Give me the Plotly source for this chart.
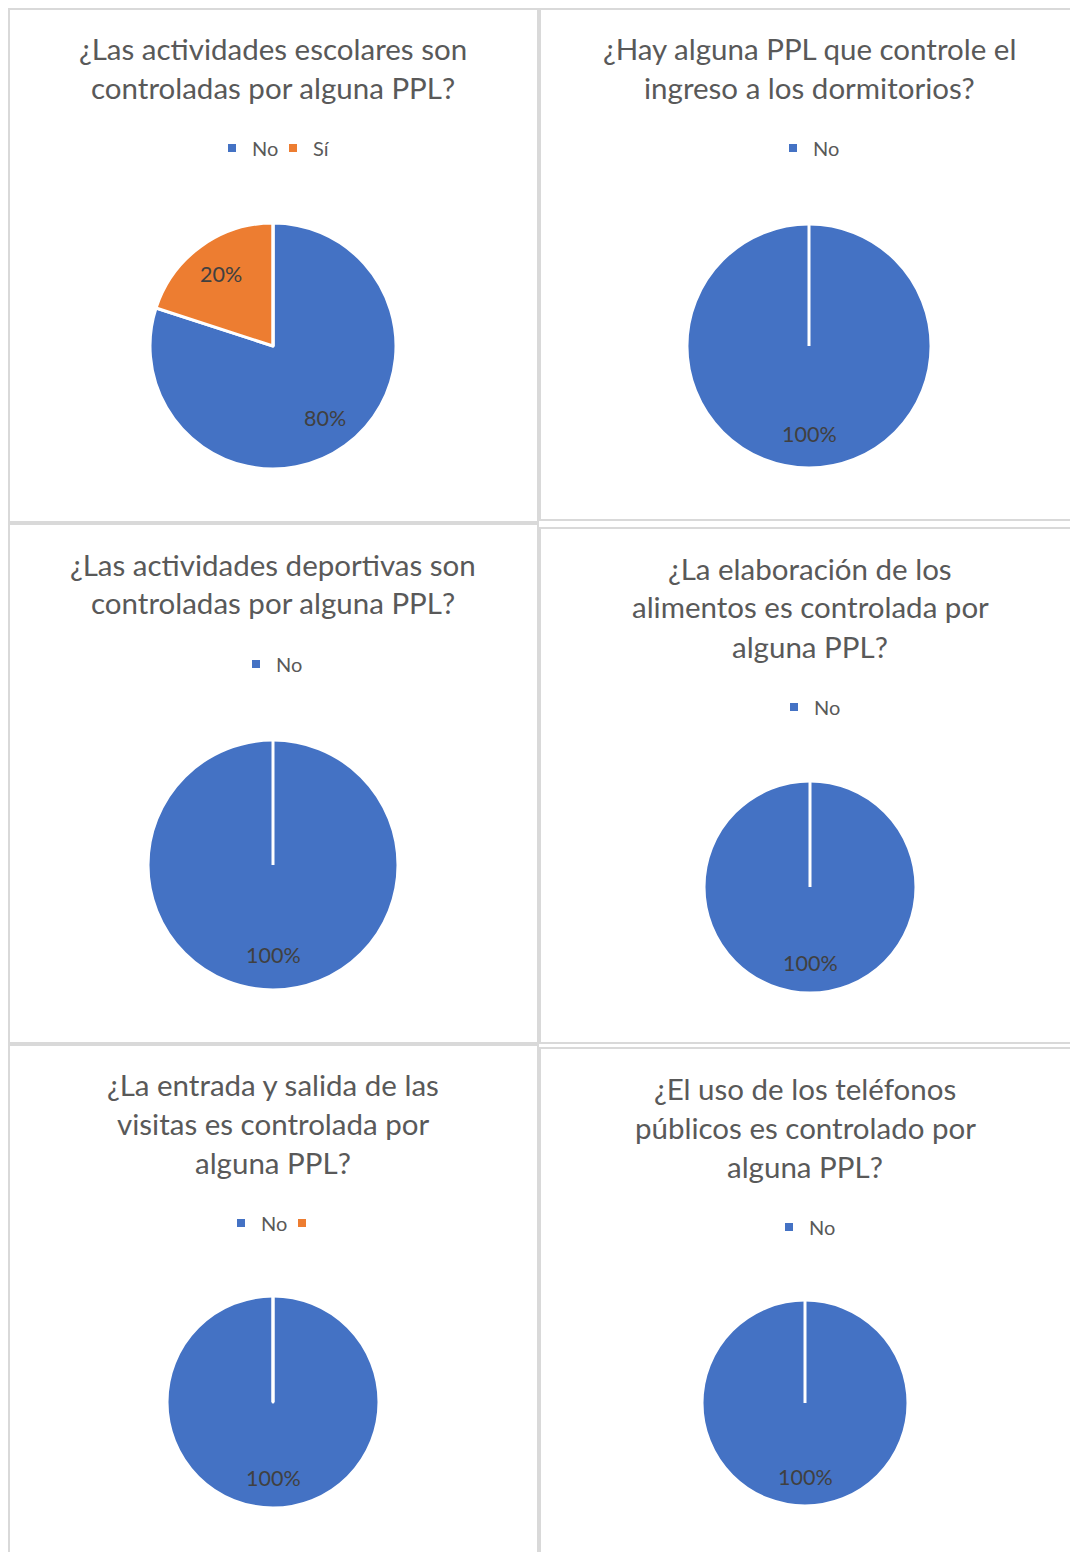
import math
import plotly.graph_objects as go

W, H = 1070, 1552

# ---------------- data ----------------
chart1_title = ["¿Las actividades escolares son", "controladas por alguna PPL?"]
chart1_labels = ["No", "Sí"]
chart1_values = [80, 20]

chart2_title = ["¿Hay alguna PPL que controle el", "ingreso a los dormitorios?"]
chart2_labels = ["No"]
chart2_values = [100]

chart3_title = ["¿Las actividades deportivas son", "controladas por alguna PPL?"]
chart3_labels = ["No"]
chart3_values = [100]

chart4_title = ["¿La elaboración de los", "alimentos es controlada por", "alguna PPL?"]
chart4_labels = ["No"]
chart4_values = [100]

chart5_title = ["¿La entrada y salida de las", "visitas es controlada por", "alguna PPL?"]
chart5_labels = ["No", " "]
chart5_values = [100, 0]

chart6_title = ["¿El uso de los teléfonos", "públicos es controlado por", "alguna PPL?"]
chart6_labels = ["No"]
chart6_values = [100]

slice_colors = ["#4472C4", "#ED7D31"]

charts = [
    (chart1_title, chart1_labels, chart1_values),
    (chart2_title, chart2_labels, chart2_values),
    (chart3_title, chart3_labels, chart3_values),
    (chart4_title, chart4_labels, chart4_values),
    (chart5_title, chart5_labels, chart5_values),
    (chart6_title, chart6_labels, chart6_values),
]

# ---------------- layout (page pixels) ----------------
panels = [(9, 9, 538, 522), (540, 9, 1080, 520),
          (9, 524, 538, 1043), (540, 528, 1080, 1043),
          (9, 1045, 538, 1570), (540, 1048, 1080, 1570)]
title_x = [273, 809, 273, 810, 273, 805]
title_y0 = [48, 48, 564, 568, 1084, 1088]
line_gap = 39
legend_sq_x = [232, 793, 256, 794, 241, 789]   # first legend square
legend_y = [148, 148, 664, 707, 1223, 1227]
pie_geo = [(273, 346, 123), (809, 346, 122), (273, 865, 125),
           (810, 887, 106), (273, 1402, 106), (805, 1403, 103)]

TITLE_FONT = dict(family="Lato", size=29.5, color="#595959")
LEGEND_FONT = dict(family="Lato", size=20, color="#595959")
LABEL_FONT = dict(family="Lato", size=21.5, color="#404040")


def px(x):
    return x / W


def py(y):
    return 1 - y / H


fig = go.Figure()
annotations = []
shapes = []
layout_legends = {}

for i, (title, labels, values) in enumerate(charts):
    cx, cy, r = pie_geo[i]
    lg = "legend" if i == 0 else f"legend{i+1}"
    fig.add_trace(go.Pie(
        labels=labels, values=values, sort=False, direction="clockwise",
        rotation=0, textinfo="none", hoverinfo="label+percent",
        marker=dict(colors=slice_colors[:len(labels)],
                    line=dict(color="white", width=3)),
        domain=dict(x=[px(cx - r), px(cx + r)], y=[py(cy + r), py(cy - r)]),
        showlegend=False,
    ))
    # legend entries (one per category of this chart)
    for j, lab in enumerate(labels):
        fig.add_trace(go.Scatter(
            x=[None], y=[None], mode="markers", name=lab,
            marker=dict(symbol="square", size=8, color=slice_colors[j]),
            legend=lg, showlegend=True, hoverinfo="skip",
        ))
    leg = dict(
        orientation="h", xanchor="left", yanchor="middle",
        x=px(legend_sq_x[i] - 20), y=py(legend_y[i]), font=LEGEND_FONT,
        bgcolor="rgba(0,0,0,0)", itemclick=False, itemdoubleclick=False,
        traceorder="normal",
    )
    if len(labels) > 1:
        leg.update(entrywidth=16, entrywidthmode="pixels")
    layout_legends[lg] = leg
    # title lines
    for k, line in enumerate(title):
        annotations.append(dict(
            text=line, x=px(title_x[i]), y=py(title_y0[i] + k * line_gap),
            xref="paper", yref="paper", xanchor="center", yanchor="middle",
            showarrow=False, font=TITLE_FONT))
    # data labels placed at slice mid-angle
    total = sum(values)
    cum = 0
    for v in values:
        if v > 0:
            theta = 2 * math.pi * (cum + v / 2) / total
            lx = cx + 0.72 * r * math.sin(theta)
            ly = cy - 0.72 * r * math.cos(theta)
            annotations.append(dict(
                text=f"{round(100 * v / total)}%", x=px(lx), y=py(ly),
                xref="paper", yref="paper", xanchor="center", yanchor="middle",
                showarrow=False, font=LABEL_FONT))
        cum += v
    # white slice border at the start angle (12 o'clock)
    shapes.append(dict(type="line", xref="paper", yref="paper",
                       x0=px(cx), y0=py(cy), x1=px(cx), y1=py(cy - r - 1),
                       line=dict(color="white", width=3), layer="above"))

for (x0, y0, x1, y1) in panels:
    shapes.append(dict(type="rect", xref="paper", yref="paper",
                       x0=px(x0), y0=py(y1), x1=px(x1), y1=py(y0),
                       line=dict(color="#D9D9D9", width=2),
                       fillcolor="rgba(0,0,0,0)", layer="below"))

fig.update_layout(
    width=W, height=H, margin=dict(l=0, r=0, t=0, b=0),
    paper_bgcolor="white", plot_bgcolor="rgba(0,0,0,0)",
    xaxis=dict(visible=False, range=[0, 1]),
    yaxis=dict(visible=False, range=[0, 1]),
    annotations=annotations, shapes=shapes, **layout_legends,
)

fig.write_html(
    "out.html",
    config={"displayModeBar": False},
    post_script="document.body.style.margin='0px';"
                "document.documentElement.style.overflow='hidden';",
)
